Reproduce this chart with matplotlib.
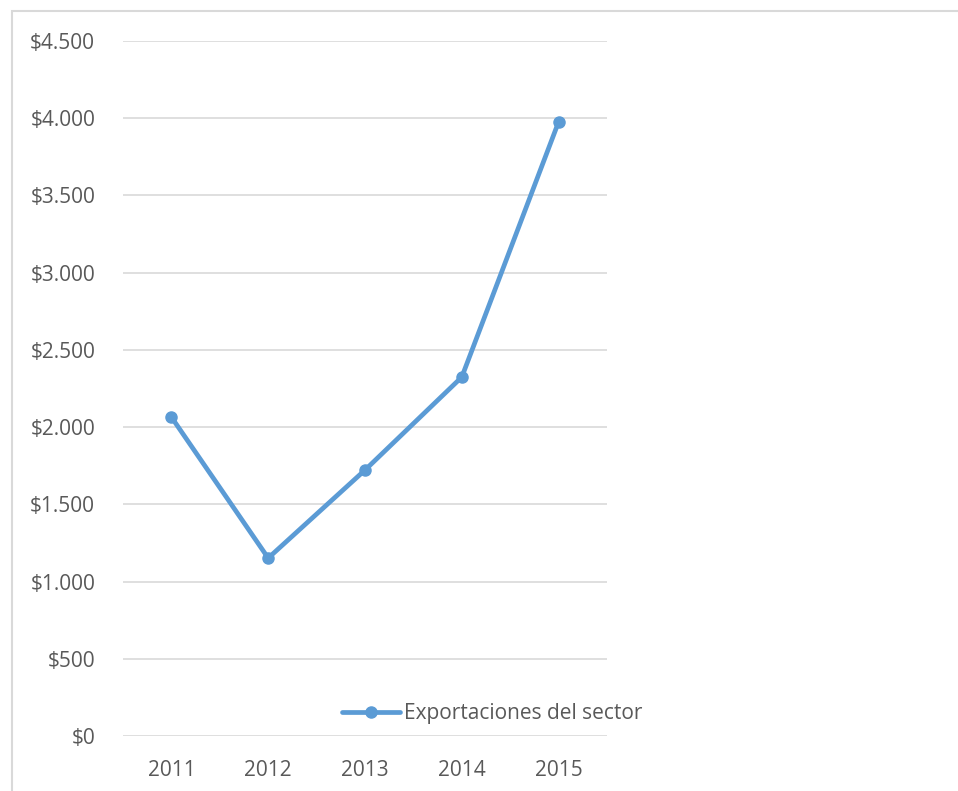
import matplotlib
matplotlib.use("Agg")
import matplotlib.pyplot as plt
from matplotlib.patches import Rectangle
from matplotlib.ticker import FuncFormatter, MultipleLocator

years = ["2011", "2012", "2013", "2014", "2015"]
exportaciones = [2065, 1152, 1722, 2324, 3976]
serie = "Exportaciones del sector"

LINE = "#5B9BD5"
GRID = "#D9D9D9"
TEXT = "#595959"

plt.rcParams["font.family"] = ["Open Sans", "DejaVu Sans"]

W, H = 958, 791
fig = plt.figure(figsize=(W / 100, H / 100), dpi=100)

# chart-area border, runs past the right and bottom edges
fig.patches.append(Rectangle((12 / W, -0.1), 1.2, 1 - 11 / H + 0.1,
                             transform=fig.transFigure, fill=False,
                             edgecolor=GRID, linewidth=1.5))

ax = fig.add_axes([123 / W, 1 - 736 / H, (607 - 123) / W, (736 - 41) / H])
x = range(len(years))
ax.plot(x, exportaciones, color=LINE, linewidth=3.4, marker="o",
        markersize=8, solid_capstyle="round", label=serie, zorder=3)

ax.set_xlim(-0.5, len(years) - 0.5)
ax.set_ylim(0, 4500)
ax.yaxis.set_major_locator(MultipleLocator(500))
ax.yaxis.set_major_formatter(FuncFormatter(
    lambda v, _: "$" + f"{int(v):,}".replace(",", ".")))
ax.set_xticks(list(x))
ax.set_xticklabels(years)
ax.grid(axis="y", color=GRID, linewidth=1.2)
ax.set_axisbelow(True)
for s in ax.spines.values():
    s.set_visible(False)
ax.tick_params(axis="both", length=0, labelsize=15, labelcolor=TEXT)
ax.tick_params(axis="y", pad=20)
ax.tick_params(axis="x", pad=17)

leg = fig.legend(loc="center left", bbox_to_anchor=(342 / W, 1 - 714 / H),
                 frameon=False, fontsize=15, handlelength=2.8,
                 handletextpad=0.2, borderpad=0, borderaxespad=0)
for t in leg.get_texts():
    t.set_color(TEXT)

fig.savefig("out.png", dpi=100)
